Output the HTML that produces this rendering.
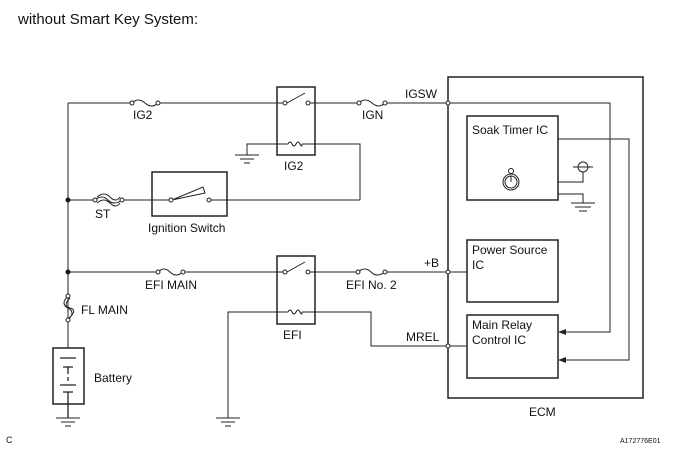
<!DOCTYPE html>
<html><head><style>body{margin:0;background:#fff}svg{display:block}text{font-family:"Liberation Sans",Arial,sans-serif;fill:#111}</style></head><body>
<svg width="685" height="456" viewBox="0 0 685 456" xmlns="http://www.w3.org/2000/svg">
<g stroke="#222" stroke-width="1" fill="none">
<!-- left main vertical -->
<path d="M68 103V348"/>
<!-- top wire -->
<path d="M68 103H132M158 103H285M308 103H359M385 103H448"/>
<path d="M132 103q6 -6 13 0t13 0"/>
<circle cx="132" cy="103" r="2" fill="#fff"/><circle cx="158" cy="103" r="2" fill="#fff"/>
<path d="M359 103q6 -6 13 0t13 0"/>
<circle cx="359" cy="103" r="2" fill="#fff"/><circle cx="385" cy="103" r="2" fill="#fff"/>
<!-- IG2 relay -->
<rect x="277" y="87" width="38" height="68" stroke-width="1.5"/>
<path d="M287 103L305 93"/>
<circle cx="285" cy="103" r="2" fill="#fff"/><circle cx="308" cy="103" r="2" fill="#fff"/>
<path d="M247 155V144H288M302 144H360V200"/>
<path d="M288 144q2-4 4 0t4 0t4 0t2 0"/>
<path d="M235 155H259M240 159H254M244 163H250"/>
<!-- ST / ignition switch -->
<path d="M68 200H95M122 200H172M209 200H360"/>
<path d="M95 200q7 -6 13 0t14 0M97 197q7 -6 13 0t10 0M97 203q7 -6 13 0t10 0"/>
<circle cx="95" cy="200" r="2" fill="#fff"/><circle cx="122" cy="200" r="2" fill="#fff"/>
<rect x="152" y="172" width="75" height="44" stroke-width="1.5"/>
<path d="M172 200L203 187L205 193Z"/>
<circle cx="171" cy="200" r="2" fill="#fff"/><circle cx="209" cy="200" r="2" fill="#fff"/>
<circle cx="68" cy="200" r="2" fill="#111"/>
<!-- EFI line -->
<path d="M68 272H158M183 272H285M308 272H358M385 272H448"/>
<path d="M158 272q6 -6 12 0t13 0"/>
<circle cx="158" cy="272" r="2" fill="#fff"/><circle cx="183" cy="272" r="2" fill="#fff"/>
<path d="M358 272q7 -6 13 0t14 0"/>
<circle cx="358" cy="272" r="2" fill="#fff"/><circle cx="385" cy="272" r="2" fill="#fff"/>
<circle cx="68" cy="272" r="2" fill="#111"/>
<rect x="277" y="256" width="38" height="68" stroke-width="1.5"/>
<path d="M287 272L305 262"/>
<circle cx="285" cy="272" r="2" fill="#fff"/><circle cx="308" cy="272" r="2" fill="#fff"/>
<path d="M228 418V312H288M302 312H371V346H448"/>
<path d="M288 312q2-4 4 0t4 0t4 0t2 0"/>
<path d="M216 418H240M221 422H235M225 426H231"/>
<!-- FL main -->
<path d="M68 296q-8 8 0 12t0 12M70 298q-8 8 0 10t-1 10"/>
<circle cx="68" cy="296" r="2" fill="#fff"/><circle cx="68" cy="320" r="2" fill="#fff"/>
<!-- battery -->
<rect x="53" y="348" width="31" height="56" stroke-width="1.5"/>
<path d="M60 358H76M63 367H73M68 367V374M68 377V381M60 385H76M63 392H73M68 392V418" stroke-width="1.3"/>
<path d="M56 418H80M61 422H75M65 426H71"/>
<!-- ECM -->
<rect x="448" y="77" width="195" height="321" stroke-width="1.5"/>
<rect x="467" y="116" width="91" height="84" stroke-width="1.5"/>
<rect x="467" y="240" width="91" height="62" stroke-width="1.5"/>
<rect x="467" y="315" width="91" height="63" stroke-width="1.5"/>
<path d="M448 103H610V332H562M558 139H629V360H562"/>
<path d="M448 272H467M448 346H467"/>
<path d="M558 182H583V172M558 194H583V203M571 203H595M575 207H591M579 211H587"/>
<circle cx="583" cy="167" r="5"/><path d="M573 167H593"/>
<circle cx="511" cy="182" r="8"/><circle cx="511" cy="182" r="6"/><circle cx="511" cy="171" r="2.5"/><path d="M511 182V176"/>
<circle cx="448" cy="103" r="2" fill="#fff"/><circle cx="448" cy="272" r="2" fill="#fff"/><circle cx="448" cy="346" r="2" fill="#fff"/>
</g>
<path d="M558 332L566 329V335Z M558 360L566 357V363Z" fill="#222"/>
<g font-size="12">
<text x="18" y="24" font-size="15">without Smart Key System:</text>
<text x="133" y="119">IG2</text>
<text x="362" y="119">IGN</text>
<text x="405" y="98">IGSW</text>
<text x="284" y="170">IG2</text>
<text x="95" y="218">ST</text>
<text x="148" y="232">Ignition Switch</text>
<text x="145" y="289">EFI MAIN</text>
<text x="346" y="289">EFI No. 2</text>
<text x="424" y="267">+B</text>
<text x="283" y="339">EFI</text>
<text x="406" y="341">MREL</text>
<text x="81" y="314">FL MAIN</text>
<text x="94" y="382">Battery</text>
<text x="472" y="134">Soak Timer IC</text>
<text x="472" y="254">Power Source</text>
<text x="472" y="269">IC</text>
<text x="472" y="329">Main Relay</text>
<text x="472" y="344">Control IC</text>
<text x="529" y="416">ECM</text>
<text x="6" y="443" font-size="9">C</text>
<text x="620" y="443" font-size="7">A172776E01</text>
</g>
</svg>
</body></html>
